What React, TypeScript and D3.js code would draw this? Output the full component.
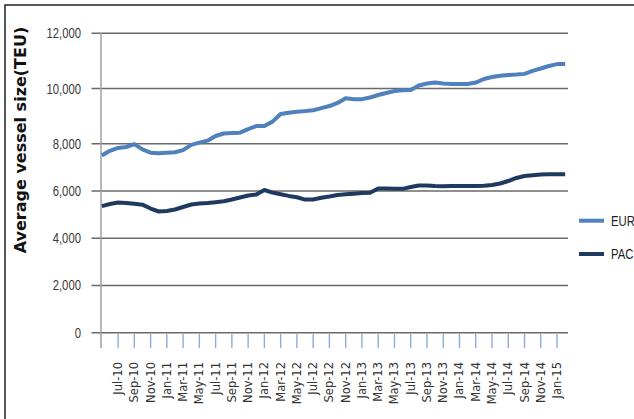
import React, { useRef, useEffect } from 'react';
import * as d3 from 'd3';

// monthly points, May-10 .. Feb-15
const months = d3.timeMonth
  .range(new Date(2010, 4, 1), new Date(2015, 2, 1))
  .map(d => d3.timeFormat('%b-%y')(d));

const eurValues = [
  7500, 7700, 7820, 7860, 7980, 7760, 7620, 7600, 7620, 7640,
  7730, 7950, 8040, 8110, 8280, 8370, 8390, 8400, 8530, 8640,
  8640, 8800, 9075, 9120, 9155, 9180, 9210, 9290, 9365, 9475,
  9645, 9610, 9615, 9675, 9765, 9835, 9910, 9935, 9945, 10110,
  10180, 10215, 10180, 10165, 10160, 10165, 10215, 10345, 10415, 10460,
  10490, 10505, 10530, 10640, 10725, 10815, 10885, 10885,
];

const pacValues = [
  5360, 5450, 5510, 5490, 5455, 5420, 5255, 5130, 5150, 5215,
  5320, 5425, 5470, 5490, 5525, 5565, 5640, 5725, 5810, 5850,
  6040, 5930, 5860, 5790, 5735, 5635, 5640, 5710, 5765, 5830,
  5860, 5885, 5915, 5925, 6100, 6105, 6095, 6090, 6170, 6230,
  6230, 6210, 6200, 6210, 6210, 6210, 6210, 6220, 6250, 6315,
  6420, 6550, 6635, 6665, 6700, 6705, 6705, 6705,
];

const tickLabels = [
  'Jul-10', 'Sep-10', 'Nov-10', 'Jan-11', 'Mar-11', 'May-11', 'Jul-11',
  'Sep-11', 'Nov-11', 'Jan-12', 'Mar-12', 'May-12', 'Jul-12', 'Sep-12',
  'Nov-12', 'Jan-13', 'Mar-13', 'May-13', 'Jul-13', 'Sep-13', 'Nov-13',
  'Jan-14', 'Mar-14', 'May-14', 'Jul-14', 'Sep-14', 'Nov-14', 'Jan-15',
];

const yTicks = [0, 2000, 4000, 6000, 8000, 10000, 12000];

const series = [
  { name: 'EUR', values: eurValues, color: '#4f81bd' },
  { name: 'PAC', values: pacValues, color: '#1f3a60' },
];

// condensed look, squeezed horizontally
const narrow = "'Liberation Sans', Arial, sans-serif";
const squeeze = 0.78;

export default function App() {
  const ref = useRef<SVGSVGElement>(null);

  useEffect(() => {
    const width = 634, height = 419;
    const svg = d3.select(ref.current);
    svg.selectAll('*').remove();
    svg.attr('width', width).attr('height', height);

    svg.append('rect').attr('width', width).attr('height', height).attr('fill', '#fff');
    // outer frame
    svg.append('rect')
      .attr('x', 5).attr('y', 5).attr('width', 700).attr('height', 500)
      .attr('fill', 'none').attr('stroke', '#222').attr('stroke-width', 1.5);

    const x = d3.scaleLinear().domain([-2.1, 55.35]).range([101, 568]);
    // the source plot's value axis is not evenly spaced above 8,000
    const y = d3.scaleLinear().domain([0, 8000, 12000]).range([332.7, 143.7, 33.3]);

    const idx = (label: string) => months.indexOf(label) - 2;

    // gridlines
    svg.append('g').selectAll('line').data(yTicks).join('line')
      .attr('x1', 91.5).attr('x2', 568)
      .attr('y1', d => y(d)).attr('y2', d => y(d))
      .attr('stroke', '#6a6a6a').attr('stroke-width', 1.4);

    // y tick labels
    svg.append('g').selectAll('text').data(yTicks).join('text')
      .attr('transform', d => `translate(81,${y(d) + 5}) scale(${squeeze},1)`)
      .attr('text-anchor', 'end')
      .style('font-family', narrow).style('font-size', '14.5px').attr('fill', '#3a3a3a')
      .text(d => d3.format(',')(d));

    // y axis line
    svg.append('line')
      .attr('x1', 101).attr('x2', 101).attr('y1', y(12000)).attr('y2', 348)
      .attr('stroke', '#a0a0a0').attr('stroke-width', 1.5);

    // x ticks
    svg.append('g').selectAll('line').data(tickLabels).join('line')
      .attr('x1', d => x(idx(d))).attr('x2', d => x(idx(d)))
      .attr('y1', y(0) + 1).attr('y2', 348)
      .attr('stroke', '#8aaedd').attr('stroke-width', 1.4);

    svg.append('g').selectAll('text').data(tickLabels).join('text')
      .attr('transform', d => `translate(${x(idx(d)) + 4},362) rotate(-90)`)
      .attr('text-anchor', 'end')
      .style('font-family', "'DejaVu Sans', sans-serif").style('font-size', '11.5px')
      .attr('fill', '#333')
      .text(d => d);

    // y title
    svg.append('text')
      .attr('transform', 'translate(26,140) rotate(-90)')
      .attr('text-anchor', 'middle')
      .style('font-family', "'DejaVu Sans', sans-serif").style('font-size', '16px')
      .style('font-weight', 'bold').attr('fill', '#111')
      .text('Average vessel size(TEU)');

    const line = d3.line<number>()
      .x((_, i) => x(i - 2))
      .y(d => y(d));

    svg.append('g').selectAll('path').data(series).join('path')
      .attr('d', d => line(d.values))
      .attr('fill', 'none')
      .attr('stroke', d => d.color)
      .attr('stroke-width', 4)
      .attr('stroke-linejoin', 'round');

    // legend
    const legend = svg.append('g').selectAll('g').data(series).join('g')
      .attr('transform', (_, i) => `translate(579,${220.7 + i * 33.3})`);
    legend.append('line')
      .attr('x1', 0).attr('x2', 25)
      .attr('stroke', d => d.color).attr('stroke-width', 4);
    legend.append('text')
      .attr('transform', `translate(32,5) scale(${squeeze},1)`)
      .style('font-family', narrow).style('font-size', '14.5px').attr('fill', '#222')
      .text(d => d.name);
  }, []);

  return (
    <div style={{ position: 'absolute', left: 0, top: 0 }}>
      <svg ref={ref} style={{ display: 'block' }} />
    </div>
  );
}
